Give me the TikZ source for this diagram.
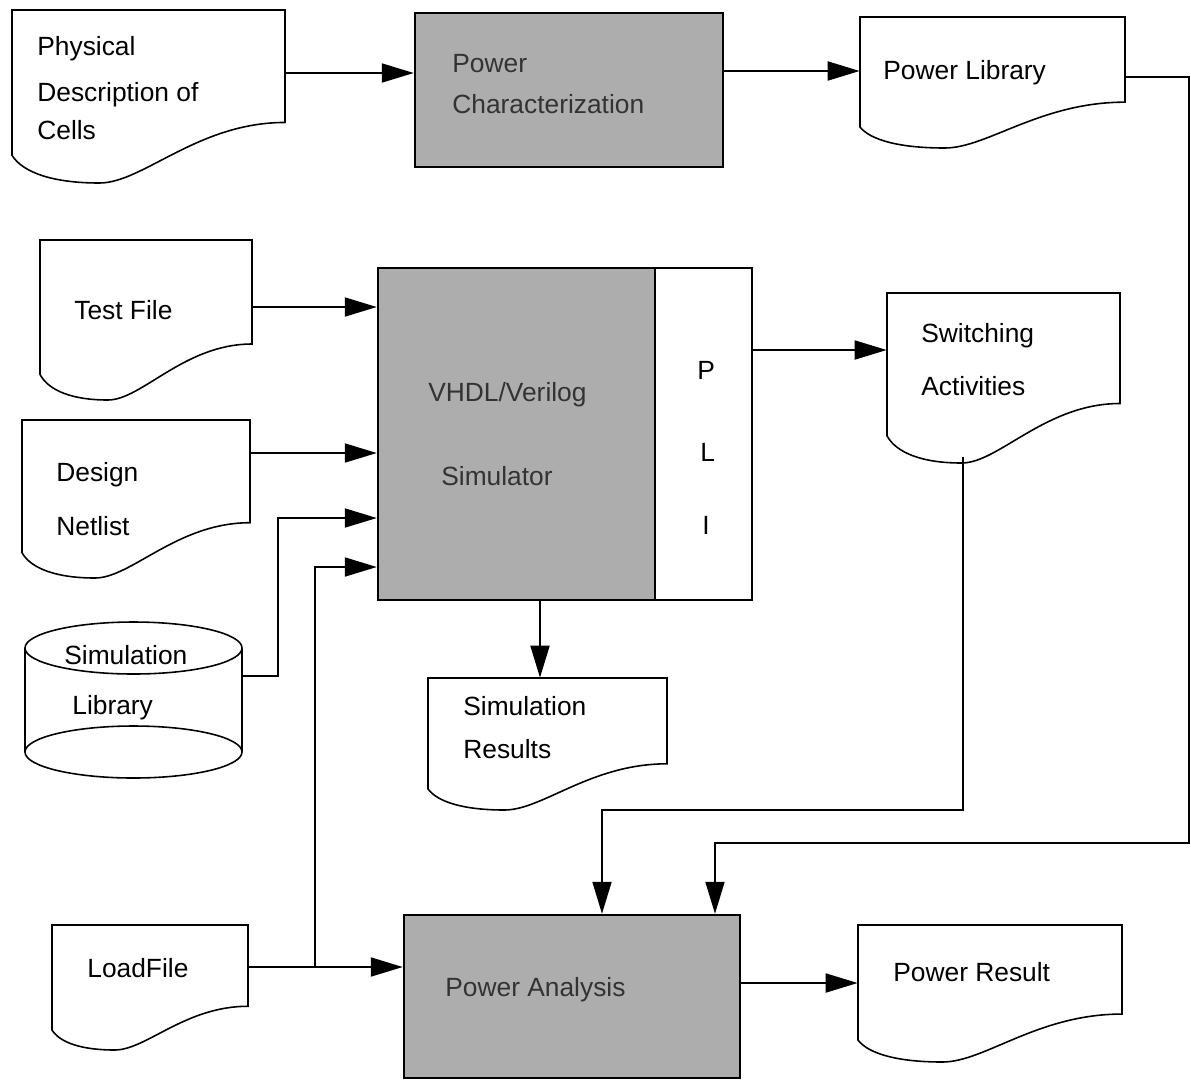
\documentclass[tikz,border=0pt]{standalone}
\usepackage{fontspec}
\setmainfont{Liberation Sans}
\usetikzlibrary{arrows.meta,fit}
\tikzset{
  docline/.style={line width=0.9pt, fill=white},
  procbox/.style={draw, line width=1.4pt, fill=black!32},
  plibox/.style={draw, line width=1.4pt, fill=white},
  arr/.style={line width=1.1pt, -{Triangle[length=6.4mm,width=3.8mm]}},
  cyl/.style={line width=0.9pt},
  lbl/.style={anchor=base west, inner sep=0pt, font=\fontsize{15}{18}\selectfont},
  glbl/.style={lbl, text=black!80},
}
\newcommand\docu[5]{%
  \pgfmathsetmacro\dcH{#5-#3}%
  \pgfmathsetmacro\dcYr{#3+0.65*\dcH}%
  \pgfmathsetmacro\dcYl{#3+0.84*\dcH}%
  \pgfmathsetmacro\dcW{#4-#2}%
  \draw[docline] (#2,#3) -- (#4,#3) -- (#4,\dcYr)
    .. controls ({#2+0.68*\dcW},\dcYr) and ({#2+0.48*\dcW},#5) .. ({#2+0.32*\dcW},#5)
    .. controls ({#2+0.15*\dcW},#5) and ({#2+0.04*\dcW},{#5-0.06*\dcH}) .. (#2,\dcYl) -- cycle;
  \node[fit={(#2,#3) (#4,\dcYr)}, inner sep=0pt] (#1) {};
}
\begin{document}
\begin{tikzpicture}[x=0.02cm,y=-0.02cm]
\useasboundingbox (0,0) rectangle (1191,1080);

% documents
\docu{phys}{12}{10}{285}{183}
\docu{plib}{860}{17}{1125}{148}
\docu{test}{40}{240}{252}{400}
\docu{design}{22}{420}{250}{578}
\docu{switch}{887}{293}{1120}{463}
\docu{simres}{428}{678}{667}{810}
\docu{load}{52}{925}{248}{1050}
\docu{pres}{858}{925}{1122}{1062}

% process boxes
\node[procbox, fit={(415,13) (723,167)}, inner sep=0pt] (pc) {};
\node[procbox, fit={(378,268) (655,600)}, inner sep=0pt] (sim) {};
\node[plibox, fit={(655,268) (752,600)}, inner sep=0pt] (pli) {};
\node[procbox, fit={(404,915) (740,1078)}, inner sep=0pt] (pa) {};

% cylinder
\fill[white] (25,648) rectangle (242,752);
\draw[cyl] (133.5,752) ellipse [x radius=108.5, y radius=26];
\draw[cyl] (25,648) -- (25,752) (242,648) -- (242,752);
\draw[cyl, fill=white] (133.5,648) ellipse [x radius=108.5, y radius=26];
\node[fit={(25,622) (242,778)}, inner sep=0pt] (simlib) {};

% labels
\node[lbl] (t1) at (37,55) {Physical};
\node[lbl] (t2) at (37,101) {Description of};
\node[lbl] (t3) at (37,139) {Cells};
\node[glbl] (t4) at (452,72) {Power};
\node[glbl] (t5) at (452,113) {Characterization};
\node[lbl] (t6) at (883,79) {Power Library};
\node[lbl] (t7) at (74,319) {Test File};
\node[glbl] (t8) at (428,401) {VHDL/Verilog};
\node[glbl] (t9) at (441,485) {Simulator};
\node[lbl] (t10) at (697,379) {P};
\node[lbl] (t11) at (700,461) {L};
\node[lbl] (t12) at (702,534) {I};
\node[lbl] (t13) at (921,342) {Switching};
\node[lbl] (t14) at (921,395) {Activities};
\node[lbl] (t15) at (56,481) {Design};
\node[lbl] (t16) at (56,535) {Netlist};
\node[lbl] (t17) at (64,664) {Simulation};
\node[lbl] (t18) at (72,714) {Library};
\node[lbl] (t19) at (463,715) {Simulation};
\node[lbl] (t20) at (463,758) {Results};
\node[lbl] (t21) at (87,977) {LoadFile};
\node[glbl] (t22) at (445,996) {Power Analysis};
\node[lbl] (t23) at (893,981) {Power Result};

% connectors
\draw[arr] (phys.east |- 0,73) -- (pc.west |- 0,73);
\draw[arr] (pc.east |- 0,71) -- (plib.west |- 0,71);
\draw[arr] (plib.east |- 0,77) -- (1189,77) -- (1189,843) -- (715,843) -- (pa.north -| 715,0);
\draw[arr] (test.east |- 0,307) -- (sim.west |- 0,307);
\draw[arr] (design.east |- 0,453) -- (sim.west |- 0,453);
\draw[arr] (simlib.east |- 0,676) -| (278,518) -- (sim.west |- 0,518);
\coordinate (jn) at (315,967);
\draw[arr] (load.east |- 0,967) -- (pa.west |- 0,967);
\draw[arr] (jn) -- (315,567) -- (sim.west |- 0,567);
\draw[arr] (sim.south -| 540,0) -- (simres.north -| 540,0);
\draw[arr] (pli.east |- 0,350) -- (switch.west |- 0,350);
\draw[arr] (963,457) -- (963,810) -- (602,810) -- (pa.north -| 602,0);
\draw[arr] (pa.east |- 0,983) -- (pres.west |- 0,983);
\end{tikzpicture}
\end{document}
